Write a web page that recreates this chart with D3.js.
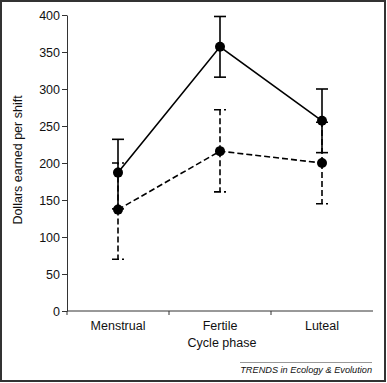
<!DOCTYPE html>
<html><head><meta charset="utf-8">
<script src="https://cdn.jsdelivr.net/npm/d3@7"></script>
<style>
html,body{margin:0;padding:0;background:#fff;}
svg{display:block;}
text{font-family:"Liberation Sans",Arial,Helvetica,sans-serif;fill:#111;}
</style></head>
<body>
<script>
// Data
const categories = ["Menstrual", "Fertile", "Luteal"];
const solidMeans = [187, 357, 257];
const solidUpper = [232, 398, 300];
const solidLower = [138, 316, 214];
const dashedMeans = [137, 216, 200];
const dashedUpper = [200, 272, 255];
const dashedLower = [70, 161, 145];
const yTicks = [0, 50, 100, 150, 200, 250, 300, 350, 400];
const xTitle = "Cycle phase";
const yTitle = "Dollars earned per shift";
const credit = "TRENDS in Ecology & Evolution";

const W = 387, H = 383;
const svg = d3.select("body").append("svg").attr("width", W).attr("height", H);

// border
svg.append("rect").attr("x", 1).attr("y", 1).attr("width", 384).attr("height", 380)
  .attr("fill", "none").attr("stroke", "#333").attr("stroke-width", 2);

const x = d3.scaleBand().domain(categories).range([67, 373]).padding(0);
const y = d3.scaleLinear().domain([0, 400]).range([311, 15]);
const cx = d => x(d) + x.bandwidth() / 2;

// Y axis
const yAxis = svg.append("g").attr("transform", "translate(67,0)")
  .call(d3.axisLeft(y).tickValues(yTicks).tickSize(5).tickPadding(2).tickSizeOuter(0));
yAxis.select(".domain").attr("stroke", "#333");
yAxis.selectAll(".tick line").attr("stroke", "#333");
yAxis.selectAll(".tick text").attr("font-size", 12.5).style("font-family", '"Liberation Sans",Arial,sans-serif').attr("fill", "#111");

// X axis
const xAxis = svg.append("g").attr("transform", "translate(0,311)")
  .call(d3.axisBottom(x).tickSize(0).tickPadding(10).tickSizeOuter(0));
xAxis.select(".domain").attr("stroke", "#333").attr("d", `M${x.range()[0]},0H${x.range()[1]}`);
xAxis.selectAll(".tick text").attr("font-size", 12.5).style("font-family", '"Liberation Sans",Arial,sans-serif').attr("fill", "#111");
// boundary ticks at left band edges
xAxis.selectAll(".bt").data(categories).enter().append("line")
  .attr("x1", d => x(d)).attr("x2", d => x(d)).attr("y1", 0).attr("y2", 4)
  .attr("stroke", "#333");

// Axis titles
svg.append("text").attr("x", 222).attr("y", 347).attr("text-anchor", "middle")
  .attr("font-size", 12.5).text(xTitle);
svg.append("text").attr("transform", "translate(22,160) rotate(-90)")
  .attr("text-anchor", "middle").attr("font-size", 12.5).text(yTitle);

// Credit
svg.append("line").attr("x1", 240).attr("x2", 372).attr("y1", 362.5).attr("y2", 362.5)
  .attr("stroke", "#999").attr("stroke-width", 1);
svg.append("text").attr("x", 372).attr("y", 372.5).attr("text-anchor", "end")
  .attr("font-size", 9.2).attr("font-style", "italic").text(credit);

function drawSeries(means, upper, lower, dash) {
  const g = svg.append("g");
  const pts = categories.map((c, i) => ({c, m: means[i], u: upper[i], l: lower[i]}));
  pts.forEach(p => {
    [p.u, p.l].forEach(v => {
      g.append("line").attr("x1", cx(p.c)).attr("x2", cx(p.c))
        .attr("y1", y(p.m)).attr("y2", y(v))
        .attr("stroke", "#000").attr("stroke-width", 1.6).attr("stroke-dasharray", dash);
      g.append("line").attr("x1", cx(p.c) - 6).attr("x2", cx(p.c) + 6)
        .attr("y1", y(v)).attr("y2", y(v))
        .attr("stroke", "#000").attr("stroke-width", 1.6)
        .attr("stroke-dasharray", dash ? "7,3" : null);
    });
  });
  g.append("path").datum(pts)
    .attr("d", d3.line().x(p => cx(p.c)).y(p => y(p.m)))
    .attr("fill", "none").attr("stroke", "#000").attr("stroke-width", 1.6)
    .attr("stroke-dasharray", dash);
  g.selectAll("circle").data(pts).enter().append("circle")
    .attr("cx", p => cx(p.c)).attr("cy", p => y(p.m)).attr("r", 5).attr("fill", "#000");
}
drawSeries(solidMeans, solidUpper, solidLower, null);
drawSeries(dashedMeans, dashedUpper, dashedLower, "6,3");
</script>
</body></html>
